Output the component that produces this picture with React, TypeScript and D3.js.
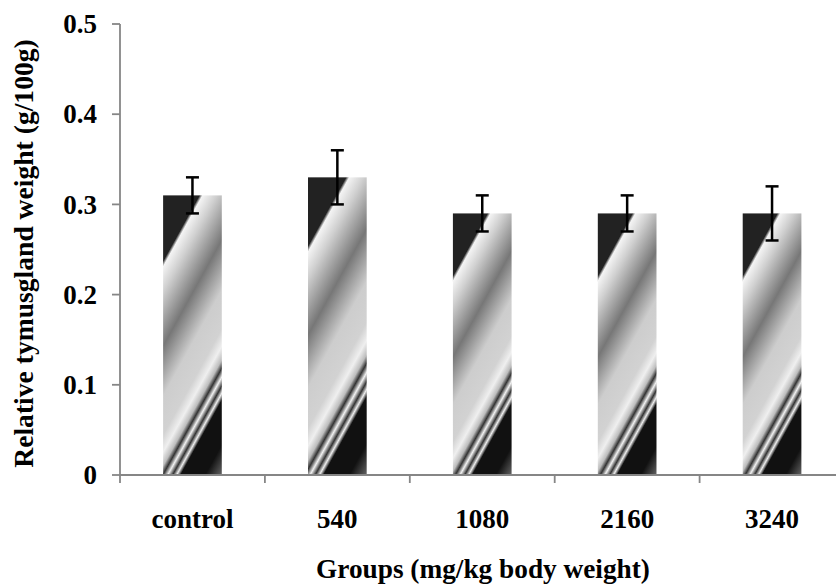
import React from "react";
import * as d3 from "d3";

const categories = ["control", "540", "1080", "2160", "3240"];
const means = [0.31, 0.33, 0.29, 0.29, 0.29];
const errors = [0.02, 0.03, 0.02, 0.02, 0.03];
const yTicks = [0, 0.1, 0.2, 0.3, 0.4, 0.5];
const yTickLabels = ["0", "0.1", "0.2", "0.3", "0.4", "0.5"];
const xTitle = "Groups (mg/kg body weight)";
const yTitle = "Relative tymusgland weight (g/100g)";

const gradStops: [number, string][] = [
  [0, "#222222"],
  [0.17, "#222222"],
  [0.185, "#f4f4f4"],
  [0.25, "#d0d0d0"],
  [0.39, "#777777"],
  [0.52, "#cdcdcd"],
  [0.62, "#d2d2d2"],
  [0.665, "#efefef"],
  [0.7, "#bdbdbd"],
  [0.722, "#333333"],
  [0.745, "#f2f2f2"],
  [0.768, "#333333"],
  [0.787, "#eeeeee"],
  [0.805, "#111111"],
  [0.92, "#111111"],
  [1, "#666666"],
];

const W = 836;
const H = 584;
const FONT = "'Liberation Serif', 'Times New Roman', serif";
const AXIS = "#868686";

export default function App() {
  const y = d3.scaleLinear().domain([0, 0.5]).range([475, 24]);
  const x = d3.scaleBand().domain(categories).range([120, 844.5]).padding(0);
  const bw = x.bandwidth() * 0.405;
  const n = [0.876, 0.484];

  const bars = categories.map((c, i) => {
    const cx = (x(c) as number) + x.bandwidth() / 2;
    const x0 = cx - bw / 2;
    const y0 = y(means[i]);
    const y1 = y(0);
    const x1 = cx + bw / 2;
    const t0 = n[0] * x0 + n[1] * y0;
    const t1 = n[0] * x1 + n[1] * y1;
    const L = t1 - t0;
    return { c, i, cx, x0, y0, y1, gx2: x0 + n[0] * L, gy2: y0 + n[1] * L };
  });

  const boundaries = d3.range(categories.length + 1).map((k) => 120 + k * x.bandwidth());

  return (
    <svg
      width={W}
      height={H}
      style={{ position: "absolute", left: 0, top: 0, background: "#fff" }}
      fontFamily={FONT}
    >
      <defs>
        {bars.map((b) => (
          <linearGradient
            key={b.c}
            id={`g${b.i}`}
            gradientUnits="userSpaceOnUse"
            x1={b.x0}
            y1={b.y0}
            x2={b.gx2}
            y2={b.gy2}
          >
            {gradStops.map(([o, col], k) => (
              <stop key={k} offset={o} stopColor={col} />
            ))}
          </linearGradient>
        ))}
      </defs>

      {bars.map((b) => (
        <rect
          key={b.c}
          x={b.x0}
          y={b.y0}
          width={bw}
          height={b.y1 - b.y0}
          fill={`url(#g${b.i})`}
        />
      ))}

      {/* axes */}
      <line x1={120} x2={120} y1={y(0.5)} y2={y(0)} stroke={AXIS} strokeWidth={1.8} />
      <line x1={120} x2={W} y1={y(0)} y2={y(0)} stroke={AXIS} strokeWidth={1.8} />
      {yTicks.map((t, k) => (
        <g key={k}>
          <line x1={112} x2={120} y1={y(t)} y2={y(t)} stroke={AXIS} strokeWidth={1.8} />
          <text
            x={97}
            y={y(t)}
            dy="0.34em"
            textAnchor="end"
            fontSize={27}
            fontWeight="bold"
          >
            {yTickLabels[k]}
          </text>
        </g>
      ))}
      {boundaries.map((bx, k) => (
        <line key={k} x1={bx} x2={bx} y1={y(0)} y2={y(0) + 8} stroke={AXIS} strokeWidth={1.8} />
      ))}

      {/* error bars */}
      {bars.map((b) => {
        const top = y(means[b.i] + errors[b.i]);
        const bot = y(means[b.i] - errors[b.i]);
        return (
          <g key={b.c} stroke="#000" strokeWidth={2.5}>
            <line x1={b.cx} x2={b.cx} y1={top} y2={bot} />
            <line x1={b.cx - 6.5} x2={b.cx + 6.5} y1={top} y2={top} />
            <line x1={b.cx - 6.5} x2={b.cx + 6.5} y1={bot} y2={bot} />
          </g>
        );
      })}

      {/* category labels */}
      {bars.map((b) => (
        <text key={b.c} x={b.cx} y={528} textAnchor="middle" fontSize={27} fontWeight="bold">
          {b.c}
        </text>
      ))}

      <text x={483} y={578} textAnchor="middle" fontSize={27.3} fontWeight="bold">
        {xTitle}
      </text>
      <text
        transform={`translate(33, ${(y(0) + y(0.5)) / 2 + 4}) rotate(-90)`}
        textAnchor="middle"
        fontSize={27.6}
        fontWeight="bold"
      >
        {yTitle}
      </text>
    </svg>
  );
}
